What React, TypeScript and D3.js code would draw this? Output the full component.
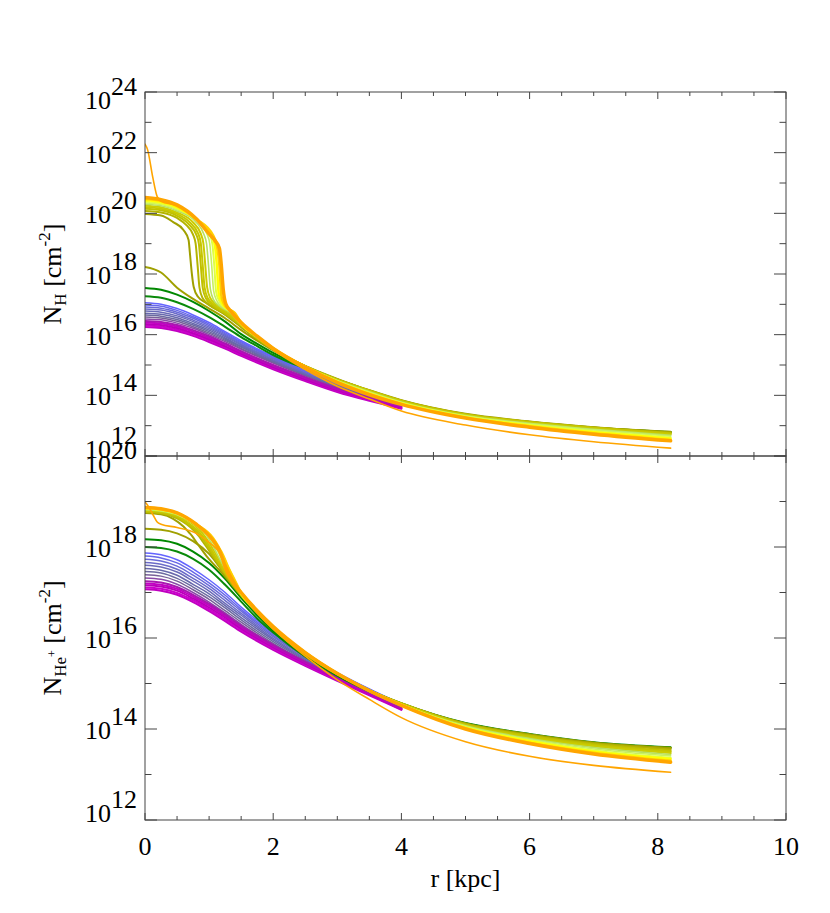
import React from "react";
import * as d3 from "d3";

// ---------------- data (log10 of column densities) ----------------
const X_MAJOR = [0, 2, 4, 6, 8, 10];
const TOP_EXP = [24, 22, 20, 18, 16, 14, 12];
const BOT_EXP = [20, 18, 16, 14, 12];

// inner curves (magenta / blue), ending near 4 kpc
const R_SMOOTH = [0, 0.25, 0.5, 0.75, 1.0, 1.25, 1.5, 2.0, 2.5, 3.0, 3.5, 4.0];

const MAGENTA_NH = [
  [16.25, 16.22, 16.12, 15.96, 15.76, 15.54, 15.3, 14.86, 14.47, 14.11, 13.82, 13.56],
  [16.3, 16.27, 16.17, 16.01, 15.81, 15.58, 15.34, 14.9, 14.5, 14.14, 13.85, 13.58],
  [16.35, 16.32, 16.22, 16.05, 15.85, 15.62, 15.38, 14.93, 14.53, 14.17, 13.87, 13.6],
  [16.4, 16.37, 16.27, 16.1, 15.9, 15.67, 15.42, 14.97, 14.57, 14.2, 13.9, 13.63],
  [16.45, 16.42, 16.32, 16.15, 15.95, 15.71, 15.46, 15.0, 14.6, 14.23, 13.93, 13.65],
];
const MAGENTA_NHE = [
  [17.07, 17.04, 16.95, 16.79, 16.59, 16.37, 16.14, 15.74, 15.39, 15.06, 14.74, 14.42],
  [17.11, 17.08, 16.99, 16.83, 16.63, 16.41, 16.18, 15.77, 15.41, 15.08, 14.76, 14.43],
  [17.16, 17.13, 17.04, 16.87, 16.67, 16.45, 16.21, 15.8, 15.44, 15.1, 14.77, 14.44],
  [17.2, 17.17, 17.08, 16.91, 16.71, 16.48, 16.24, 15.82, 15.46, 15.12, 14.78, 14.45],
  [17.25, 17.22, 17.12, 16.95, 16.75, 16.52, 16.27, 15.85, 15.48, 15.14, 14.8, 14.46],
];
const BLUE_NH = [
  [16.52, 16.49, 16.38, 16.21, 16.0, 15.77, 15.52, 15.06, 14.64, 14.26, 13.94, 13.66],
  [16.58, 16.55, 16.44, 16.26, 16.05, 15.81, 15.55, 15.09, 14.66, 14.28, 13.95, 13.67],
  [16.65, 16.61, 16.5, 16.32, 16.1, 15.85, 15.59, 15.11, 14.68, 14.3, 13.97, 13.67],
  [16.71, 16.67, 16.56, 16.37, 16.15, 15.89, 15.62, 15.14, 14.7, 14.32, 13.98, 13.68],
  [16.78, 16.74, 16.62, 16.43, 16.2, 15.94, 15.66, 15.17, 14.73, 14.34, 14.0, 13.69],
  [16.85, 16.81, 16.68, 16.48, 16.25, 15.98, 15.69, 15.2, 14.75, 14.36, 14.01, 13.7],
  [16.91, 16.87, 16.74, 16.54, 16.3, 16.02, 15.73, 15.23, 14.78, 14.38, 14.03, 13.7],
  [16.98, 16.94, 16.8, 16.59, 16.35, 16.06, 15.76, 15.26, 14.8, 14.4, 14.04, 13.71],
  [17.05, 17.0, 16.86, 16.65, 16.4, 16.1, 15.8, 15.29, 14.83, 14.42, 14.06, 13.72],
];
const BLUE_NHE = [
  [17.32, 17.29, 17.18, 17.0, 16.79, 16.55, 16.3, 15.85, 15.45, 15.09, 14.76, 14.46],
  [17.39, 17.36, 17.25, 17.06, 16.85, 16.6, 16.35, 15.88, 15.48, 15.11, 14.78, 14.47],
  [17.46, 17.43, 17.31, 17.12, 16.91, 16.66, 16.4, 15.92, 15.51, 15.13, 14.79, 14.48],
  [17.53, 17.49, 17.38, 17.18, 16.97, 16.71, 16.45, 15.96, 15.53, 15.15, 14.81, 14.49],
  [17.6, 17.56, 17.45, 17.25, 17.03, 16.76, 16.5, 15.99, 15.55, 15.17, 14.82, 14.5],
  [17.66, 17.62, 17.51, 17.31, 17.09, 16.82, 16.54, 16.03, 15.58, 15.19, 14.84, 14.51],
  [17.73, 17.69, 17.58, 17.38, 17.15, 16.88, 16.59, 16.06, 15.6, 15.21, 14.85, 14.52],
  [17.8, 17.76, 17.65, 17.45, 17.21, 16.94, 16.63, 16.09, 15.62, 15.22, 14.87, 14.53],
  [17.87, 17.83, 17.72, 17.52, 17.28, 17.0, 16.68, 16.12, 15.64, 15.24, 14.88, 14.55],
];

// green / olive curves, reaching 8.2 kpc
const R_LONG = [0, 0.25, 0.5, 0.75, 1.0, 1.25, 1.5, 1.75, 2.0, 2.5, 3.0, 3.5, 4.0, 5.0, 6.0, 7.0, 8.2];
const MID_NH = [
  [17.27, 17.22, 17.07, 16.85, 16.58, 16.26, 15.92, 15.62, 15.33, 14.88, 14.47, 14.1, 13.79, 13.35, 13.1, 12.92, 12.78],
  [17.54, 17.48, 17.32, 17.08, 16.78, 16.43, 16.02, 15.7, 15.4, 14.92, 14.5, 14.12, 13.8, 13.36, 13.11, 12.93, 12.79],
  [18.23, 18.05, 17.55, 17.18, 16.86, 16.54, 16.15, 15.8, 15.48, 14.97, 14.54, 14.15, 13.82, 13.37, 13.12, 12.94, 12.8],
];
const MID_NHE = [
  [18.0, 17.98, 17.9, 17.74, 17.5, 17.17, 16.8, 16.43, 16.12, 15.59, 15.17, 14.83, 14.55, 14.12, 13.88, 13.7, 13.59],
  [18.17, 18.15, 18.07, 17.9, 17.65, 17.3, 16.88, 16.5, 16.16, 15.62, 15.19, 14.84, 14.56, 14.13, 13.89, 13.71, 13.6],
  [18.4, 18.38, 18.3, 18.13, 17.85, 17.4, 17.0, 16.6, 16.24, 15.66, 15.21, 14.85, 14.56, 14.12, 13.88, 13.7, 13.59],
];

// curves with a sharp drop (olive -> yellow -> orange)
const STEP_R = [
  [0, 0.25, 0.44, 0.6, 0.68, 0.7, 0.73, 0.76, 0.83, 0.96, 1.22],
  [0, 0.25, 0.5, 0.65, 0.75, 0.79, 0.82, 0.85, 0.9, 1.0, 1.22],
  [0, 0.25, 0.5, 0.7, 0.8, 0.84, 0.87, 0.9, 0.95, 1.05, 1.25],
  [0, 0.25, 0.5, 0.7, 0.83, 0.87, 0.9, 0.93, 0.98, 1.08, 1.27],
  [0, 0.25, 0.5, 0.75, 0.87, 0.91, 0.94, 0.97, 1.02, 1.12, 1.3],
  [0, 0.25, 0.5, 0.8, 0.92, 0.96, 0.99, 1.02, 1.07, 1.16, 1.32],
  [0, 0.25, 0.5, 0.8, 0.97, 1.01, 1.04, 1.07, 1.12, 1.2, 1.34],
  [0, 0.25, 0.5, 0.8, 1.0, 1.05, 1.08, 1.11, 1.16, 1.24, 1.36],
  [0, 0.25, 0.5, 0.8, 1.03, 1.09, 1.12, 1.15, 1.2, 1.27, 1.38],
  [0, 0.25, 0.5, 0.8, 1.06, 1.12, 1.16, 1.19, 1.23, 1.3, 1.4],
  [0, 0.25, 0.5, 0.8, 1.0, 1.1, 1.16, 1.19, 1.22, 1.26, 1.35],
];
const STEP_NH = [
  [19.98, 19.93, 19.71, 19.45, 19.12, 18.7, 18.03, 17.57, 17.24, 17.04, 16.7],
  [20.08, 20.03, 19.85, 19.6, 19.3, 19.0, 18.3, 17.55, 17.2, 16.98, 16.72],
  [20.15, 20.1, 19.92, 19.6, 19.3, 19.0, 18.3, 17.55, 17.2, 16.98, 16.7],
  [20.2, 20.15, 19.98, 19.7, 19.33, 19.02, 18.3, 17.55, 17.2, 16.98, 16.72],
  [20.25, 20.2, 20.03, 19.7, 19.33, 19.02, 18.3, 17.55, 17.2, 16.98, 16.74],
  [20.3, 20.25, 20.08, 19.7, 19.3, 19.0, 18.3, 17.5, 17.15, 16.95, 16.74],
  [20.34, 20.29, 20.12, 19.78, 19.3, 19.0, 18.3, 17.45, 17.12, 16.93, 16.74],
  [20.38, 20.32, 20.16, 19.8, 19.35, 19.0, 18.3, 17.4, 17.1, 16.9, 16.74],
  [20.43, 20.37, 20.2, 19.8, 19.3, 18.95, 18.3, 17.35, 17.05, 16.88, 16.74],
  [20.47, 20.41, 20.24, 19.81, 19.28, 18.95, 18.3, 17.3, 17.02, 16.85, 16.72],
  [20.52, 20.45, 20.28, 19.82, 19.32, 19.08, 18.85, 18.3, 17.5, 17.02, 16.75],
];
const STEP_NHE = [
  [18.75, 18.72, 18.62, 18.45, 18.33, 18.3, 18.25, 18.19, 18.05, 17.8, 17.4],
  [18.77, 18.74, 18.63, 18.5, 18.38, 18.32, 18.27, 18.22, 18.12, 17.92, 17.45],
  [18.78, 18.75, 18.65, 18.47, 18.35, 18.29, 18.24, 18.18, 18.08, 17.85, 17.42],
  [18.8, 18.77, 18.68, 18.5, 18.35, 18.29, 18.24, 18.18, 18.07, 17.83, 17.4],
  [18.81, 18.78, 18.7, 18.5, 18.35, 18.28, 18.22, 18.16, 18.05, 17.8, 17.38],
  [18.82, 18.79, 18.71, 18.47, 18.32, 18.25, 18.19, 18.12, 18.0, 17.75, 17.36],
  [18.83, 18.8, 18.72, 18.48, 18.27, 18.2, 18.14, 18.07, 17.95, 17.72, 17.34],
  [18.84, 18.81, 18.73, 18.49, 18.24, 18.16, 18.1, 18.03, 17.9, 17.68, 17.32],
  [18.85, 18.82, 18.74, 18.5, 18.22, 18.12, 18.05, 17.97, 17.84, 17.63, 17.3],
  [18.86, 18.83, 18.75, 18.5, 18.2, 18.07, 17.97, 17.9, 17.78, 17.55, 17.27],
  [18.87, 18.84, 18.75, 18.5, 18.25, 18.07, 17.93, 17.82, 17.7, 17.52, 17.27],
];
const R_TAIL = [1.5, 1.75, 2.0, 2.5, 3.0, 3.5, 4.0, 5.0, 6.0, 7.0, 8.2];
const TAIL_NH = [
  [16.25, 15.85, 15.5, 14.95, 14.52, 14.17, 13.84, 13.39, 13.14, 12.95, 12.78],
  [16.28, 15.87, 15.51, 14.96, 14.52, 14.16, 13.83, 13.38, 13.13, 12.94, 12.77],
  [16.3, 15.88, 15.52, 14.96, 14.52, 14.16, 13.82, 13.37, 13.12, 12.93, 12.75],
  [16.31, 15.89, 15.52, 14.96, 14.51, 14.15, 13.81, 13.36, 13.11, 12.92, 12.73],
  [16.32, 15.9, 15.53, 14.96, 14.5, 14.14, 13.8, 13.35, 13.1, 12.9, 12.71],
  [16.33, 15.91, 15.53, 14.95, 14.49, 14.12, 13.78, 13.33, 13.08, 12.88, 12.68],
  [16.34, 15.92, 15.54, 14.95, 14.48, 14.1, 13.76, 13.32, 13.06, 12.86, 12.65],
  [16.36, 15.93, 15.54, 14.94, 14.46, 14.08, 13.75, 13.3, 13.03, 12.82, 12.61],
  [16.37, 15.94, 15.55, 14.94, 14.45, 14.06, 13.73, 13.28, 13.0, 12.78, 12.57],
  [16.38, 15.95, 15.55, 14.93, 14.44, 14.04, 13.71, 13.26, 12.98, 12.75, 12.53],
  [16.4, 15.95, 15.55, 14.93, 14.42, 14.02, 13.7, 13.25, 12.95, 12.72, 12.5],
];
const TAIL_NHE = [
  [16.93, 16.55, 16.2, 15.64, 15.2, 14.85, 14.57, 14.12, 13.88, 13.7, 13.58],
  [16.94, 16.56, 16.21, 15.65, 15.2, 14.85, 14.56, 14.11, 13.86, 13.68, 13.55],
  [16.95, 16.56, 16.21, 15.65, 15.21, 14.85, 14.56, 14.1, 13.85, 13.66, 13.52],
  [16.95, 16.57, 16.22, 15.66, 15.21, 14.85, 14.55, 14.09, 13.83, 13.64, 13.5],
  [16.96, 16.57, 16.22, 15.66, 15.21, 14.85, 14.55, 14.08, 13.81, 13.62, 13.47],
  [16.96, 16.58, 16.23, 15.67, 15.21, 14.85, 14.54, 14.07, 13.79, 13.59, 13.44],
  [16.97, 16.58, 16.23, 15.67, 15.22, 14.85, 14.54, 14.06, 13.77, 13.56, 13.41],
  [16.98, 16.59, 16.24, 15.67, 15.22, 14.84, 14.53, 14.04, 13.75, 13.53, 13.37],
  [16.98, 16.59, 16.24, 15.68, 15.22, 14.84, 14.53, 14.03, 13.73, 13.5, 13.34],
  [16.99, 16.6, 16.25, 15.68, 15.22, 14.84, 14.52, 14.02, 13.7, 13.48, 13.3],
  [17.0, 16.6, 16.25, 15.68, 15.22, 14.84, 14.52, 14.0, 13.68, 13.45, 13.27],
];

// thin orange curve with the central spike
const SPIKE_R = [0, 0.04, 0.12, 0.19, 0.25, 0.5, 0.8, 1.0, 1.1, 1.16, 1.19, 1.22, 1.26, 1.35, 1.5, 1.75, 2.0, 2.5, 3.0, 3.5, 4.0, 5.0, 6.0, 7.0, 8.2];
const SPIKE_NH = [22.28, 22.1, 21.2, 20.55, 20.4, 20.25, 19.8, 19.3, 19.05, 18.8, 18.3, 17.5, 17.0, 16.7, 16.35, 15.92, 15.5, 14.85, 14.3, 13.88, 13.48, 13.02, 12.7, 12.47, 12.26];
const SPIKE_NHE = [18.99, 18.92, 18.72, 18.55, 18.5, 18.43, 18.3, 18.1, 17.98, 17.88, 17.8, 17.7, 17.6, 17.35, 17.0, 16.55, 16.2, 15.6, 15.08, 14.65, 14.25, 13.72, 13.4, 13.2, 13.05];

// ---------------- styles ----------------
const MAGENTA_COLORS = ["#c000c0", "#cc00cc", "#b800b8", "#c400c4", "#a818b0"];
const BLUE_COLORS = ["#8a4aa8", "#786098", "#6c6aa0", "#6868ac", "#6a6ab8", "#6a6ac8", "#6a6ad8", "#6868e8", "#6464ff"];
const MID_COLORS = ["#0a8a0a", "#008800", "#a0a000"];
const STEP_COLORS = ["#a0a000", "#b4b400", "#c0c000", "#c6c600", "#cccc00", "#b8e060", "#c8f060", "#e0ff40", "#ffff00", "#ffd000", "#ffa500"];
const STEP_WIDTHS = [2, 2, 2, 2, 2, 1.6, 1.6, 2, 2.5, 2.5, 3.5];

// ---------------- layout ----------------
const W = 830;
const H = 913;
const X0 = 145;
const X1 = 786;
const TOP_Y0 = 92;
const MID_Y = 456;
const BOT_Y1 = 820;
const FONT = "'Liberation Serif', 'Times New Roman', Times, serif";

const x = d3.scaleLinear().domain([0, 10]).range([X0, X1]);
const yTop = d3.scaleLinear().domain([12, 24]).range([MID_Y, TOP_Y0]);
const yBot = d3.scaleLinear().domain([12, 20]).range([BOT_Y1, MID_Y]);

type Series = { r: number[]; nh: number[]; nhe: number[]; color: string; width: number };

function buildSeries(): Series[] {
  const s: Series[] = [];
  BLUE_NH.forEach((v, i) =>
    s.push({ r: R_SMOOTH, nh: v, nhe: BLUE_NHE[i], color: BLUE_COLORS[i], width: 1.5 })
  );
  MAGENTA_NH.forEach((v, i) =>
    s.push({ r: R_SMOOTH, nh: v, nhe: MAGENTA_NHE[i], color: MAGENTA_COLORS[i], width: 2 })
  );
  MID_NH.forEach((v, i) =>
    s.push({ r: R_LONG, nh: v, nhe: MID_NHE[i], color: MID_COLORS[i], width: 2 })
  );
  STEP_R.forEach((r, i) =>
    s.push({
      r: r.concat(R_TAIL),
      nh: STEP_NH[i].concat(TAIL_NH[i]),
      nhe: STEP_NHE[i].concat(TAIL_NHE[i]),
      color: STEP_COLORS[i],
      width: STEP_WIDTHS[i],
    })
  );
  s.push({ r: SPIKE_R, nh: SPIKE_NH, nhe: SPIKE_NHE, color: "#ffa500", width: 1.6 });
  return s;
}

function pathFor(r: number[], v: number[], y: d3.ScaleLinear<number, number>) {
  const line = d3
    .line<number>()
    .x((_, i) => x(r[i]))
    .y((d) => y(d))
    .curve(d3.curveMonotoneX);
  return line(v) || "";
}

const AXIS = "#444";

function Panel({
  y,
  lo,
  hi,
  yTopPx,
  yBotPx,
  field,
  series,
  clipId,
}: {
  y: d3.ScaleLinear<number, number>;
  lo: number;
  hi: number;
  yTopPx: number;
  yBotPx: number;
  field: "nh" | "nhe";
  series: Series[];
  clipId: string;
}) {
  const exps = d3.range(lo, hi + 1);
  const xMinor = d3.range(0, 10.01, 0.5).filter((t) => Math.abs(t / 2 - Math.round(t / 2)) > 1e-6);
  return (
    <g>
      <defs>
        <clipPath id={clipId}>
          <rect x={X0} y={yTopPx} width={X1 - X0} height={yBotPx - yTopPx} />
        </clipPath>
      </defs>
      <g clipPath={`url(#${clipId})`}>
        {series.map((s, i) => (
          <path
            key={i}
            d={pathFor(s.r, s[field], y)}
            fill="none"
            stroke={s.color}
            strokeWidth={s.width}
            strokeLinejoin="round"
            strokeLinecap="round"
          />
        ))}
      </g>
      {exps.map((e) => {
        const major = (e - lo) % 2 === 0;
        const len = major ? 12 : 6.5;
        const yy = y(e);
        return (
          <g key={e} stroke={AXIS} strokeWidth={1}>
            <line x1={X0} x2={X0 + len} y1={yy} y2={yy} />
            <line x1={X1} x2={X1 - len} y1={yy} y2={yy} />
          </g>
        );
      })}
      {X_MAJOR.map((t) => (
        <g key={"M" + t} stroke={AXIS} strokeWidth={1}>
          <line x1={x(t)} x2={x(t)} y1={yTopPx} y2={yTopPx + 7} />
          <line x1={x(t)} x2={x(t)} y1={yBotPx} y2={yBotPx - 7} />
        </g>
      ))}
      {xMinor.map((t) => (
        <g key={"m" + t} stroke={AXIS} strokeWidth={1}>
          <line x1={x(t)} x2={x(t)} y1={yTopPx} y2={yTopPx + 4} />
          <line x1={x(t)} x2={x(t)} y1={yBotPx} y2={yBotPx - 4} />
        </g>
      ))}
      <rect
        x={X0}
        y={yTopPx}
        width={X1 - X0}
        height={yBotPx - yTopPx}
        fill="none"
        stroke={AXIS}
        strokeWidth={1}
      />
    </g>
  );
}

function YLabels({
  exps,
  y,
  first,
  last,
}: {
  exps: number[];
  y: d3.ScaleLinear<number, number>;
  first: number;
  last: number;
}) {
  return (
    <g fontFamily={FONT} fontSize={26} fill="#000">
      {exps.map((e, i) => {
        const off = i === 0 ? first : i === exps.length - 1 ? last : 10;
        return (
          <text key={e} x={137} y={y(e) + off} textAnchor="end">
            10<tspan dy={-14}>{String(e)}</tspan>
          </text>
        );
      })}
    </g>
  );
}

export default function App() {
  const series = buildSeries();
  const midTop = (TOP_Y0 + MID_Y) / 2;
  const midBot = (MID_Y + BOT_Y1) / 2;
  return (
    <svg
      width={W}
      height={H}
      viewBox={`0 0 ${W} ${H}`}
      style={{ position: "absolute", left: 0, top: 0, background: "#fff" }}
    >
      <rect x={0} y={0} width={W} height={H} fill="#fff" />
      <Panel y={yTop} lo={12} hi={24} yTopPx={TOP_Y0} yBotPx={MID_Y} field="nh" series={series} clipId="clipTop" />
      <Panel y={yBot} lo={12} hi={20} yTopPx={MID_Y} yBotPx={BOT_Y1} field="nhe" series={series} clipId="clipBot" />
      <YLabels exps={TOP_EXP} y={yTop} first={16.5} last={1.5} />
      <YLabels exps={BOT_EXP} y={yBot} first={17} last={2} />
      <g fontFamily={FONT} fontSize={26} fill="#000" textAnchor="middle">
        {X_MAJOR.map((t) => (
          <text key={t} x={x(t)} y={855}>
            {String(t)}
          </text>
        ))}
        <text x={(X0 + X1) / 2} y={887}>
          r [kpc]
        </text>
      </g>
      <g fontFamily={FONT} fontSize={26} fill="#000">
        <text transform={`translate(61,${midTop}) rotate(-90)`} textAnchor="middle">
          N
          <tspan fontSize={17} dy={5}>
            H
          </tspan>
          <tspan dy={-5}>{" [cm"}</tspan>
          <tspan fontSize={17} dy={-11}>
            -2
          </tspan>
          <tspan dy={11}>]</tspan>
        </text>
        <text transform={`translate(61,${midBot}) rotate(-90)`} textAnchor="middle">
          N
          <tspan fontSize={17} dy={5}>
            He
          </tspan>
          <tspan fontSize={12} dy={-10}>
            +
          </tspan>
          <tspan dy={5}>{" [cm"}</tspan>
          <tspan fontSize={17} dy={-11}>
            -2
          </tspan>
          <tspan dy={11}>]</tspan>
        </text>
      </g>
    </svg>
  );
}
